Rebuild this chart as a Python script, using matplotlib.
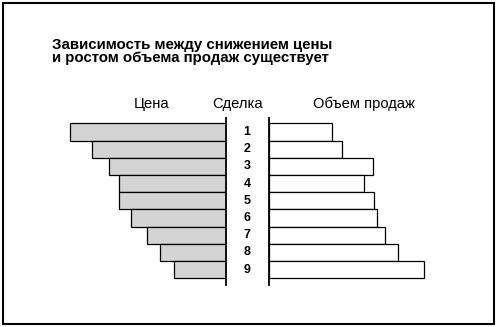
import matplotlib.pyplot as plt
from matplotlib.patches import Rectangle

plt.rcParams['font.family'] = ['Liberation Sans', 'DejaVu Sans']

deals = [1, 2, 3, 4, 5, 6, 7, 8, 9]
price = [156, 134, 117, 107, 107, 95, 79, 66, 52]
volume = [63, 73, 104, 95, 105, 108, 116, 129, 155]

title = 'Зависимость между снижением цены\nи ростом объема продаж существует'
col_titles = ['Цена', 'Сделка', 'Объем продаж']

W, H = 498, 327
fig = plt.figure(figsize=(W / 100, H / 100), dpi=100)


def box(x0, x1, y0, y1):
    # pixel box (from top-left) -> figure fraction
    return [x0 / W, 1 - y1 / H, (x1 - x0) / W, (y1 - y0) / H]


ax_l = fig.add_axes(box(60, 225.7, 117.7, 285))
ax_r = fig.add_axes(box(268.5, 440, 117.7, 285))

ax_l.barh(deals, price, height=1.0, color='#d4d4d4', edgecolor='black', linewidth=0.9)
ax_r.barh(deals, volume, height=1.0, color='white', edgecolor='black', linewidth=0.9)

ax_l.set_xlim(165.7, 0)
ax_r.set_xlim(0, 171.5)
for ax in (ax_l, ax_r):
    ax.set_ylim(9.89, 0.175)
    ax.set_xticks([])
    ax.set_yticks([])
    for s in ax.spines.values():
        s.set_visible(False)
ax_l.spines['right'].set_visible(True)
ax_l.spines['right'].set_linewidth(1.3)
ax_r.spines['left'].set_visible(True)
ax_r.spines['left'].set_linewidth(1.3)

for d in deals:
    ax_r.text(-21.5, d, str(d), ha='center', va='center', fontsize=9,
              fontweight='bold', clip_on=False)

fig.text(52 / W, 1 - 38 / H, title, ha='left', va='top', fontsize=10.8,
         fontweight='bold', linespacing=0.95)

fig.text(151.5 / W, 1 - 104 / H, col_titles[0], ha='center', va='center', fontsize=10.6)
fig.text(238 / W, 1 - 104 / H, col_titles[1], ha='center', va='center', fontsize=10.6)
fig.text(363.5 / W, 1 - 104 / H, col_titles[2], ha='center', va='center', fontsize=10.6)

fig.patches.append(Rectangle((2.5 / W, 1 - 323.7 / H), 491.8 / W, 320.4 / H,
                             transform=fig.transFigure, fill=False,
                             edgecolor='black', linewidth=1.5))

fig.savefig('out.png', dpi=100, facecolor='white')
